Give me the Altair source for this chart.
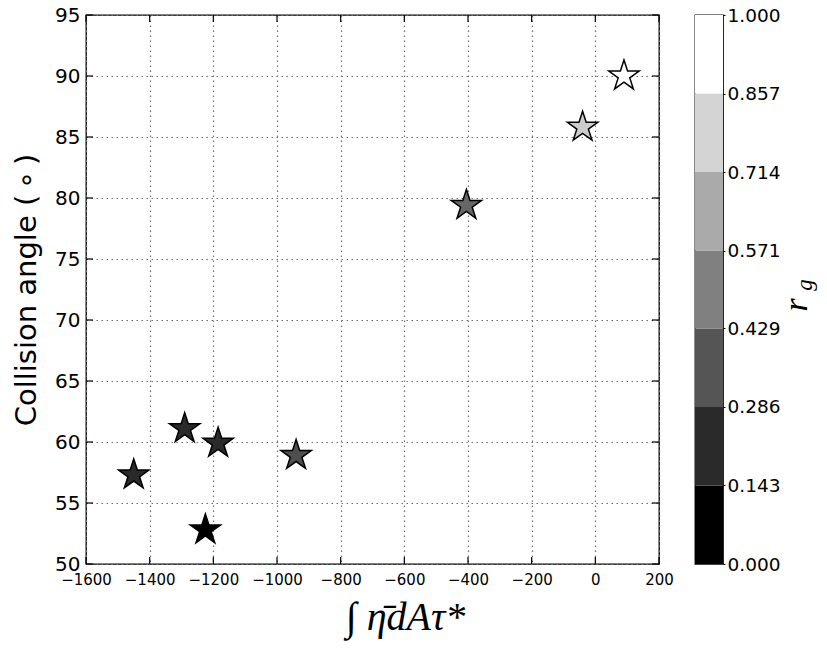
import altair as alt
import pandas as pd

# ---- data ----
eta_int = [-1450, -1290, -1185, -1225, -940, -405, -40, 90]
angle = [57.3, 61.1, 59.9, 52.8, 58.9, 79.4, 85.8, 90.0]
r_g = [0.17, 0.17, 0.17, 0.0, 0.33, 0.43, 0.82, 1.0]

x_ticks = [-1600, -1400, -1200, -1000, -800, -600, -400, -200, 0, 200]
y_ticks = [50, 55, 60, 65, 70, 75, 80, 85, 90, 95]

cb_bounds = [0.0, 0.143, 0.286, 0.429, 0.571, 0.714, 0.857, 1.0]
cb_colors = ["#000000", "#2a2a2a", "#555555", "#808080", "#aaaaaa", "#d4d4d4", "#ffffff"]
cb_title_parts = ["r", "g"]

# five-pointed star symbol in the unit box (-1..1)
STAR = ("M0,-1L0.2245,-0.309L0.9511,-0.309L0.3633,0.118L0.5878,0.809L0,0.382"
        "L-0.5878,0.809L-0.3633,0.118L-0.9511,-0.309L-0.2245,-0.309Z")

W, H = 573, 549
CBW = 28
TICK = 7

pts = pd.DataFrame({"x": eta_int, "y": angle, "rg": r_g})
xt = pd.DataFrame({"v": x_ticks})
yt = pd.DataFrame({"v": y_ticks})
cb = pd.DataFrame({"lo": cb_bounds[:-1], "hi": cb_bounds[1:], "c": cb_colors, "k": ["cb"] * 7})

xscale = alt.Scale(domain=[-1600, 200], nice=False, zero=False)
yscale = alt.Scale(domain=[50, 95], nice=False, zero=False)

x_axis = alt.Axis(
    values=x_ticks, format="d", grid=True, gridDash=[1.5, 3.5], gridColor="#707070", gridWidth=1.2,
    ticks=False, domain=False, labelFontSize=15, labelPadding=8, labelFlush=False,
    labelOverlap=False, labelColor="black", labelFont="DejaVu Sans",
    title="∫ η̄dAτ*", titleFont="Liberation Serif", titleFontStyle="italic",
    titleFontWeight="normal", titleFontSize=40, titleColor="black", titlePadding=10,
    titleX=319,
)
y_axis = alt.Axis(
    values=y_ticks, format="d", grid=True, gridDash=[1.5, 3.5], gridColor="#707070", gridWidth=1.2,
    ticks=False, domain=False, labelFontSize=20, labelPadding=6, labelFlush=False,
    labelOverlap=False, labelColor="black", labelFont="DejaVu Sans",
    title="Collision angle (\u2009∘\u2009)", titleFont="DejaVu Sans", titleFontWeight="normal",
    titleFontSize=29, titleColor="black", titlePadding=13,
)

stars = alt.Chart(pts).mark_point(
    shape=STAR, filled=True, size=1020, stroke="black", strokeWidth=1.5, opacity=1
).encode(
    x=alt.X("x:Q", scale=xscale, axis=x_axis),
    y=alt.Y("y:Q", scale=yscale, axis=y_axis),
    fill=alt.Fill("rg:Q", scale=alt.Scale(domain=[0, 1], range=["#000000", "#ffffff"]), legend=None),
)

tick_style = dict(color="black", strokeWidth=1.2)
bottom_ticks = alt.Chart(xt).mark_rule(**tick_style).encode(
    x=alt.X("v:Q", scale=xscale), y=alt.value(H), y2=alt.value(H - TICK))
top_ticks = alt.Chart(xt).mark_rule(**tick_style).encode(
    x=alt.X("v:Q", scale=xscale), y=alt.value(0), y2=alt.value(TICK))
left_ticks = alt.Chart(yt).mark_rule(**tick_style).encode(
    y=alt.Y("v:Q", scale=yscale), x=alt.value(0), x2=alt.value(TICK))
right_ticks = alt.Chart(yt).mark_rule(**tick_style).encode(
    y=alt.Y("v:Q", scale=yscale), x=alt.value(W), x2=alt.value(W - TICK))

main = alt.layer(stars, bottom_ticks, top_ticks, left_ticks, right_ticks).properties(width=W, height=H)

cb_rect = alt.Chart(cb).mark_rect().encode(
    x=alt.X("k:N", axis=None, scale=alt.Scale(paddingInner=0, paddingOuter=0)),
    y=alt.Y("lo:Q", scale=alt.Scale(domain=[0, 1], nice=False, zero=False),
            axis=alt.Axis(orient="right", values=cb_bounds, format=".3f", ticks=True, tickSize=2,
                          tickColor="black", domain=False, grid=False, labelFontSize=18.5,
                          labelPadding=2, labelFlush=False, labelOverlap=False,
                          labelColor="black", labelFont="DejaVu Sans", title=None)),
    y2="hi:Q",
    fill=alt.Fill("c:N", scale=None, legend=None),
)

cb_r = alt.Chart(pd.DataFrame({"t": [cb_title_parts[0]]})).mark_text(
    font="Liberation Serif", fontStyle="italic", fontSize=34, angle=270, color="black"
).encode(text="t:N", x=alt.value(102), y=alt.value(290))
cb_g = alt.Chart(pd.DataFrame({"t": [cb_title_parts[1]]})).mark_text(
    font="Liberation Serif", fontStyle="italic", fontSize=23, angle=270, color="black"
).encode(text="t:N", x=alt.value(110), y=alt.value(270))

cbar = alt.layer(cb_rect, cb_r, cb_g).properties(width=CBW, height=H)

chart = alt.hconcat(
    main, cbar, spacing=36, bounds="flush",
    padding={"left": 3, "top": -4, "right": 0, "bottom": 3},
).configure_view(stroke="black", strokeWidth=1.3)

chart.save("out.html", embed_options={"renderer": "svg", "actions": False})
